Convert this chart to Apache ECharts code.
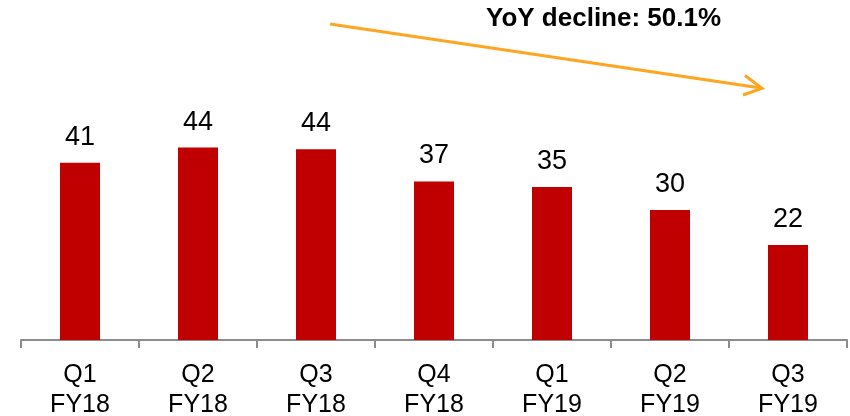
<!DOCTYPE html>
<html>
<head>
<meta charset="utf-8">
<script src="https://cdn.jsdelivr.net/npm/echarts@6/dist/echarts.min.js"></script>
<style>
html,body{margin:0;padding:0;background:#fff;}
#c{width:850px;height:416px;}
</style>
</head>
<body>
<div id="c"></div>
<script>
const categories = ['Q1\nFY18', 'Q2\nFY18', 'Q3\nFY18', 'Q4\nFY18', 'Q1\nFY19', 'Q2\nFY19', 'Q3\nFY19'];
const values = [40.9, 44.4, 44.0, 36.6, 35.3, 30.0, 21.9];
const annotationText = 'YoY decline: 50.1%';

const font = '"Liberation Sans", Arial, sans-serif';
const chart = echarts.init(document.getElementById('c'), null, {renderer: 'canvas'});
chart.setOption({
  animation: false,
  backgroundColor: '#ffffff',
  grid: {left: 21, right: 3, top: 80, bottom: 76, containLabel: false, outerBoundsMode: 'none'},
  xAxis: {
    type: 'category',
    data: categories,
    boundaryGap: true,
    axisLine: {show: true, lineStyle: {color: '#8c8c8c', width: 2}},
    axisTick: {show: true, length: 8, alignWithLabel: false, lineStyle: {color: '#8c8c8c', width: 2}},
    axisLabel: {
      color: '#000', fontSize: 25, fontFamily: font, lineHeight: 30, margin: 20, interval: 0
    },
    splitLine: {show: false}
  },
  yAxis: {
    type: 'value', min: 0, max: 60, show: false,
    splitLine: {show: false}
  },
  series: [{
    type: 'bar',
    data: values,
    barWidth: 40,
    itemStyle: {color: '#c00000'},
    label: {
      show: true, position: 'top', distance: 12,
      color: '#000', fontSize: 27, fontFamily: font,
      formatter: p => String(Math.round(p.value))
    }
  }],
  graphic: [
    {
      type: 'line', silent: true,
      shape: {x1: 330, y1: 24, x2: 761, y2: 88},
      style: {stroke: '#ffa520', lineWidth: 3}
    },
    {
      type: 'polyline', silent: true,
      shape: {points: [[745, 75.5], [762, 88.3], [743, 95]]},
      style: {stroke: '#ffa520', lineWidth: 3, fill: null}
    },
    {
      type: 'text', silent: true,
      x: 486, y: 19,
      style: {
        text: annotationText, fill: '#000',
        font: 'bold 26px ' + font,
        textAlign: 'left', textVerticalAlign: 'middle', verticalAlign: 'middle'
      }
    }
  ]
});
</script>
</body>
</html>
